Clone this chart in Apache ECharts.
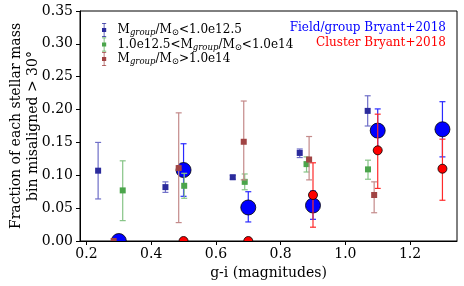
<!DOCTYPE html>
<html><head><meta charset="utf-8">
<script src="https://cdn.jsdelivr.net/npm/echarts@6/dist/echarts.min.js"></script>
<style>html,body{margin:0;padding:0;background:#fff}#c{width:464px;height:286px}</style>
</head><body><div id="c"></div>
<script>
// ---- data ----
const xTicks = [0.2, 0.4, 0.6, 0.8, 1.0, 1.2];
const yTicks = [0, 0.05, 0.10, 0.15, 0.20, 0.25, 0.30, 0.35];

const lowX  = [0.236, 0.444, 0.652, 0.859, 1.069];
const lowY  = [0.107, 0.082, 0.097, 0.134, 0.198];
const lowLo = [0.064, 0.074, 0.094, 0.127, 0.175];
const lowHi = [0.150, 0.090, 0.100, 0.140, 0.221];

const midX  = [0.312, 0.502, 0.689, 0.880, 1.070];
const midY  = [0.077, 0.084, 0.090, 0.117, 0.109];
const midLo = [0.031, 0.065, 0.078, 0.105, 0.094];
const midHi = [0.122, 0.103, 0.102, 0.128, 0.123];

const highX  = [0.284, 0.485, 0.686, 0.888, 1.089];
const highY  = [0.000, 0.111, 0.151, 0.124, 0.070];
const highLo = [0.000, 0.028, 0.093, 0.093, 0.043];
const highHi = [0.000, 0.195, 0.213, 0.159, 0.090];

const fieldX  = [0.3, 0.5, 0.7, 0.9, 1.1, 1.3];
const fieldY  = [0.000, 0.108, 0.051, 0.054, 0.168, 0.170];
const fieldLo = [0.000, 0.068, 0.029, 0.033, 0.135, 0.128];
const fieldHi = [0.000, 0.148, 0.075, 0.076, 0.201, 0.212];

const clusX  = [0.5, 0.7, 0.9, 1.1, 1.3];
const clusY  = [0.000, 0.000, 0.070, 0.138, 0.110];
const clusLo = [0.000, 0.000, 0.021, 0.080, 0.062];
const clusHi = [0.000, 0.000, 0.119, 0.193, 0.155];

const massNames = ['low', 'mid', 'high'];
const massLabels = {
  low:  '{f|M}{s|group}{n|/M}{o|⊙}{n|<1.0e12.5}',
  mid:  '{f|1.0e12.5<M}{s|group}{n|/M}{o|⊙}{n|<1.0e14}',
  high: '{f|M}{s|group}{n|/M}{o|⊙}{n|>1.0e14}'
};
const bryantNames = ['Field/group Bryant+2018', 'Cluster Bryant+2018'];

// ---- helpers ----
const zipErr = (xs, ys, lo, hi) => xs.map((x, i) => [x, ys[i], lo[i], hi[i]]);

function pointSeries(name, data, barColor, fill, shape, size, border, z) {
  return {
    name: name, type: 'custom', silent: true, z: z, clip: true,
    itemStyle: { color: fill },
    renderItem: function (params, api) {
      const x = api.value(0), y = api.value(1), lo = api.value(2), hi = api.value(3);
      const c = api.coord([x, y]);
      const children = [];
      if (hi - lo > 0) {
        const p1 = api.coord([x, lo]), p2 = api.coord([x, hi]);
        const w = 3;
        const st = { stroke: barColor, lineWidth: 1.2 };
        children.push(
          { type: 'line', shape: { x1: p1[0], y1: p1[1], x2: p2[0], y2: p2[1] }, style: st },
          { type: 'line', shape: { x1: p1[0]-w, y1: p1[1], x2: p1[0]+w, y2: p1[1] }, style: st },
          { type: 'line', shape: { x1: p2[0]-w, y1: p2[1], x2: p2[0]+w, y2: p2[1] }, style: st }
        );
      }
      if (shape === 'circle') {
        children.push({ type: 'circle', shape: { cx: c[0], cy: c[1], r: size / 2 },
          style: { fill: fill, stroke: border, lineWidth: 0.8 } });
      } else {
        children.push({ type: 'rect', shape: { x: c[0] - size / 2, y: c[1] - size / 2, width: size, height: size },
          style: { fill: fill } });
      }
      return { type: 'group', children: children };
    },
    encode: { x: 0, y: 1 },
    data: data
  };
}

const serif = 'DejaVu Serif';
const iconPath = 'path://M2,0H8V1H5.5V7H8V13H5.5V19H8V20H2V19H4.5V13H2V7H4.5V1H2Z';

const chart = echarts.init(document.getElementById('c'), null, { renderer: 'canvas' });
const option = {
  animation: false,
  backgroundColor: '#fff',
  textStyle: { fontFamily: serif, color: '#000' },
  grid: { left: 80, right: 7, top: 11, bottom: 45, containLabel: false, outerBoundsMode: 'none',
    show: true, borderColor: '#000', borderWidth: 1, backgroundColor: 'transparent' },
  xAxis: {
    type: 'value', min: 0.18, max: 1.345,
    name: 'g-i (magnitudes)', nameLocation: 'middle', nameGap: 25, nameMoveOverlap: false,
    nameTextStyle: { fontFamily: serif, fontSize: 14, color: '#000' },
    axisLine: { show: true, onZero: false, lineStyle: { color: '#000', width: 1 } },
    axisTick: { show: true, inside: false, length: 4, lineStyle: { color: '#000' }, customValues: xTicks },
    axisLabel: { fontFamily: serif, fontSize: 14, color: '#000', margin: 6, customValues: xTicks,
      formatter: v => v.toFixed(1) },
    splitLine: { show: false }
  },
  yAxis: {
    type: 'value', min: 0, max: 0.35, interval: 0.05,
    name: 'Fraction of each stellar mass\nbin misaligned > 30°', nameLocation: 'middle', nameGap: 38,
    nameMoveOverlap: false,
    nameTextStyle: { fontFamily: serif, fontSize: 14, color: '#000', lineHeight: 17 },
    axisLine: { show: true, lineStyle: { color: '#000', width: 1 } },
    axisTick: { show: true, inside: false, length: 4, lineStyle: { color: '#000' } },
    axisLabel: { fontFamily: serif, fontSize: 14, color: '#000', margin: 7, formatter: v => v.toFixed(2) },
    splitLine: { show: false }
  },
  legend: {
    orient: 'vertical', left: 97, top: 18, itemGap: 0,
    itemWidth: 7, itemHeight: 14, icon: iconPath,
    data: massNames,
    formatter: name => massLabels[name],
    textStyle: {
      fontFamily: serif, fontSize: 12, color: '#000',
      rich: {
        f: { fontFamily: serif, fontSize: 12, color: '#000', lineHeight: 15, verticalAlign: 'middle', padding: [0, 0, 0, 5] },
        n: { fontFamily: serif, fontSize: 12, color: '#000', lineHeight: 15, verticalAlign: 'middle' },
        s: { fontFamily: serif, fontSize: 8.5, fontStyle: 'italic', color: '#000', lineHeight: 15, verticalAlign: 'bottom' },
        o: { fontFamily: serif, fontSize: 8.5, color: '#000', lineHeight: 15, verticalAlign: 'bottom' }
      }
    }
  },
  graphic: [
    { type: 'text', right: 18, top: 22, style: { text: bryantNames[0], fill: '#0000ff', font: '12px "DejaVu Serif"', textAlign: 'right' } },
    { type: 'text', right: 18, top: 37, style: { text: bryantNames[1], fill: '#ff0000', font: '12px "DejaVu Serif"', textAlign: 'right' } }
  ],
  series: [
    pointSeries(bryantNames[0], zipErr(fieldX, fieldY, fieldLo, fieldHi), '#2a2aff', '#0000ff', 'circle', 15, '#000', 2),
    pointSeries(bryantNames[1], zipErr(clusX, clusY, clusLo, clusHi), '#ff2a2a', '#ff0000', 'circle', 9, '#000', 3),
    pointSeries('low',  zipErr(lowX, lowY, lowLo, lowHi),   '#6f6fc8', '#2b2b9c', 'rect', 6, null, 4),
    pointSeries('mid',  zipErr(midX, midY, midLo, midHi),   '#86c486', '#4ba54b', 'rect', 6, null, 4),
    pointSeries('high', zipErr(highX, highY, highLo, highHi), '#c48a8a', '#a14444', 'rect', 6, null, 4)
  ]
};
chart.setOption(option);
</script></body></html>
